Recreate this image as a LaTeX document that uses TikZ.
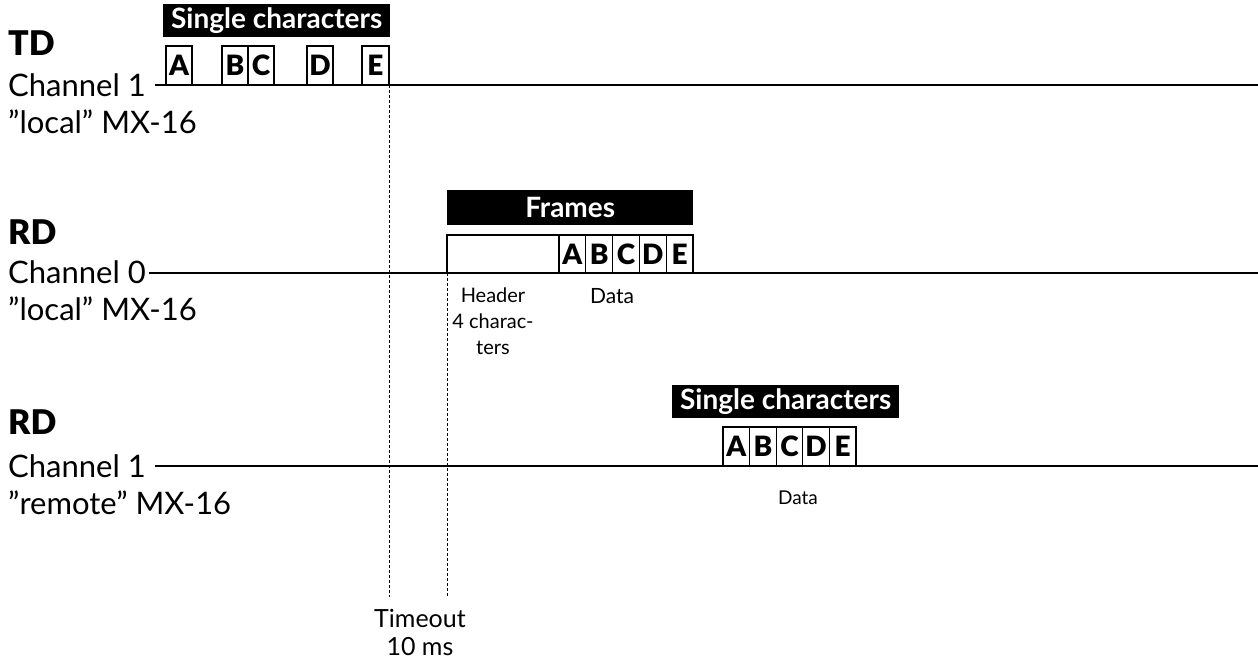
\documentclass[tikz,border=0pt]{standalone}
\usepackage{fontspec}
\setmainfont{Lato}
\newfontfamily\heavyfont{Lato Black}
\usetikzlibrary{positioning}

\tikzset{
  sigline/.style={line width=1.8pt},
  timeline/.style={line width=0.9pt, dash pattern=on 3pt off 2pt},
  chbox/.style={draw, line width=1.3pt, outer sep=0pt, inner sep=0pt,
    minimum width=26pt, minimum height=39pt,
    font=\heavyfont\fontsize{28}{28}\selectfont},
  tagbox/.style={fill=black, text=white, inner sep=0pt, anchor=north west,
    minimum height=33pt, font=\bfseries\fontsize{28}{28}\selectfont},
  signame/.style={anchor=base west, inner xsep=3pt, inner ysep=0pt,
    font=\heavyfont\fontsize{34}{34}\selectfont},
  chname/.style={anchor=base west, inner xsep=3pt, inner ysep=0pt,
    font=\fontsize{31}{31}\selectfont},
  note/.style={align=center, inner sep=0pt, anchor=north,
    font=\fontsize{21}{26}\selectfont},
}

\begin{document}
\begin{tikzpicture}[x=1pt, y=-1pt]
\useasboundingbox (0,0) rectangle (1258,661);

% TD, channel 1, local
\node(tdname)[signame] at (5,56){TD};
\node(tdch)[chname] at (5,96){Channel 1};
\node(tdloc)[chname] at (5,133){”local” MX-16};
\coordinate(tdend) at (1258,85);
\draw[sigline]([xshift=6pt]tdch.east |- tdend) -- (tdend);

\node(tdtag)[tagbox, minimum width=227pt] at (163,4){Single characters};
\node(tda)[chbox, anchor=south west] at (166,85){A};
\node(tdb)[chbox, anchor=south west] at (222,85){B};
\node(tdc)[chbox, right=0pt of tdb]{C};
\node(tdd)[chbox, anchor=south west] at (307,85){D};
\node(tde)[chbox, anchor=south west, minimum width=27pt] at (362,85){E};

% RD, channel 0, local
\node(rdname)[signame] at (5,244){RD};
\node(rdch)[chname] at (5,283){Channel 0};
\node(rdloc)[chname] at (5,320){”local” MX-16};
\coordinate(rdend) at (1258,273);
\draw[sigline](rdch.east |- rdend) -- (rdend);

\node(frtag)[tagbox, minimum width=246pt, minimum height=35pt] at (447,190){Frames};
\node(fhdr)[chbox, anchor=south west, minimum width=112pt, minimum height=38pt] at (447,273){};
\node(fra)[chbox, minimum width=26.8pt, minimum height=38pt, right=0pt of fhdr]{A};
\node(frb)[chbox, minimum width=26.8pt, minimum height=38pt, right=0pt of fra]{B};
\node(frc)[chbox, minimum width=26.8pt, minimum height=38pt, right=0pt of frb]{C};
\node(frd)[chbox, minimum width=26.8pt, minimum height=38pt, right=0pt of frc]{D};
\node(fre)[chbox, minimum width=26.8pt, minimum height=38pt, right=0pt of frd]{E};
\node(hdrnote)[note, font=\fontsize{20}{26}\selectfont] at (493,288){Header\\4 charac-\\ters};
\node(frdata)[note] at (612,288){Data};

% RD, channel 1, remote
\node(rmname)[signame] at (5,434){RD};
\node(rmch)[chname] at (5,477){Channel 1};
\node(rmloc)[chname] at (5,514){”remote” MX-16};
\coordinate(rmend) at (1258,466);
\draw[sigline]([xshift=6pt]rmch.east |- rmend) -- (rmend);

\node(rmtag)[tagbox, minimum width=227pt] at (672,385){Single characters};
\node(rma)[chbox, anchor=south west, minimum width=26.6pt] at (723,466){A};
\node(rmb)[chbox, minimum width=26.6pt, right=0pt of rma]{B};
\node(rmc)[chbox, minimum width=26.6pt, right=0pt of rmb]{C};
\node(rmd)[chbox, minimum width=26.6pt, right=0pt of rmc]{D};
\node(rme)[chbox, minimum width=26.6pt, right=0pt of rmd]{E};
\node(rmdata)[note, font=\fontsize{19}{22}\selectfont] at (798,491){Data};

% timeout
\coordinate(tmotop) at (418,597);
\node(tmo)[note, font=\fontsize{25}{28}\selectfont] at (420,609){Timeout\\10 ms};
\draw[timeline](tde.south east) -- (tde.south east |- tmotop);
\draw[timeline](fhdr.south west) -- (fhdr.south west |- tmotop);

\end{tikzpicture}
\end{document}
